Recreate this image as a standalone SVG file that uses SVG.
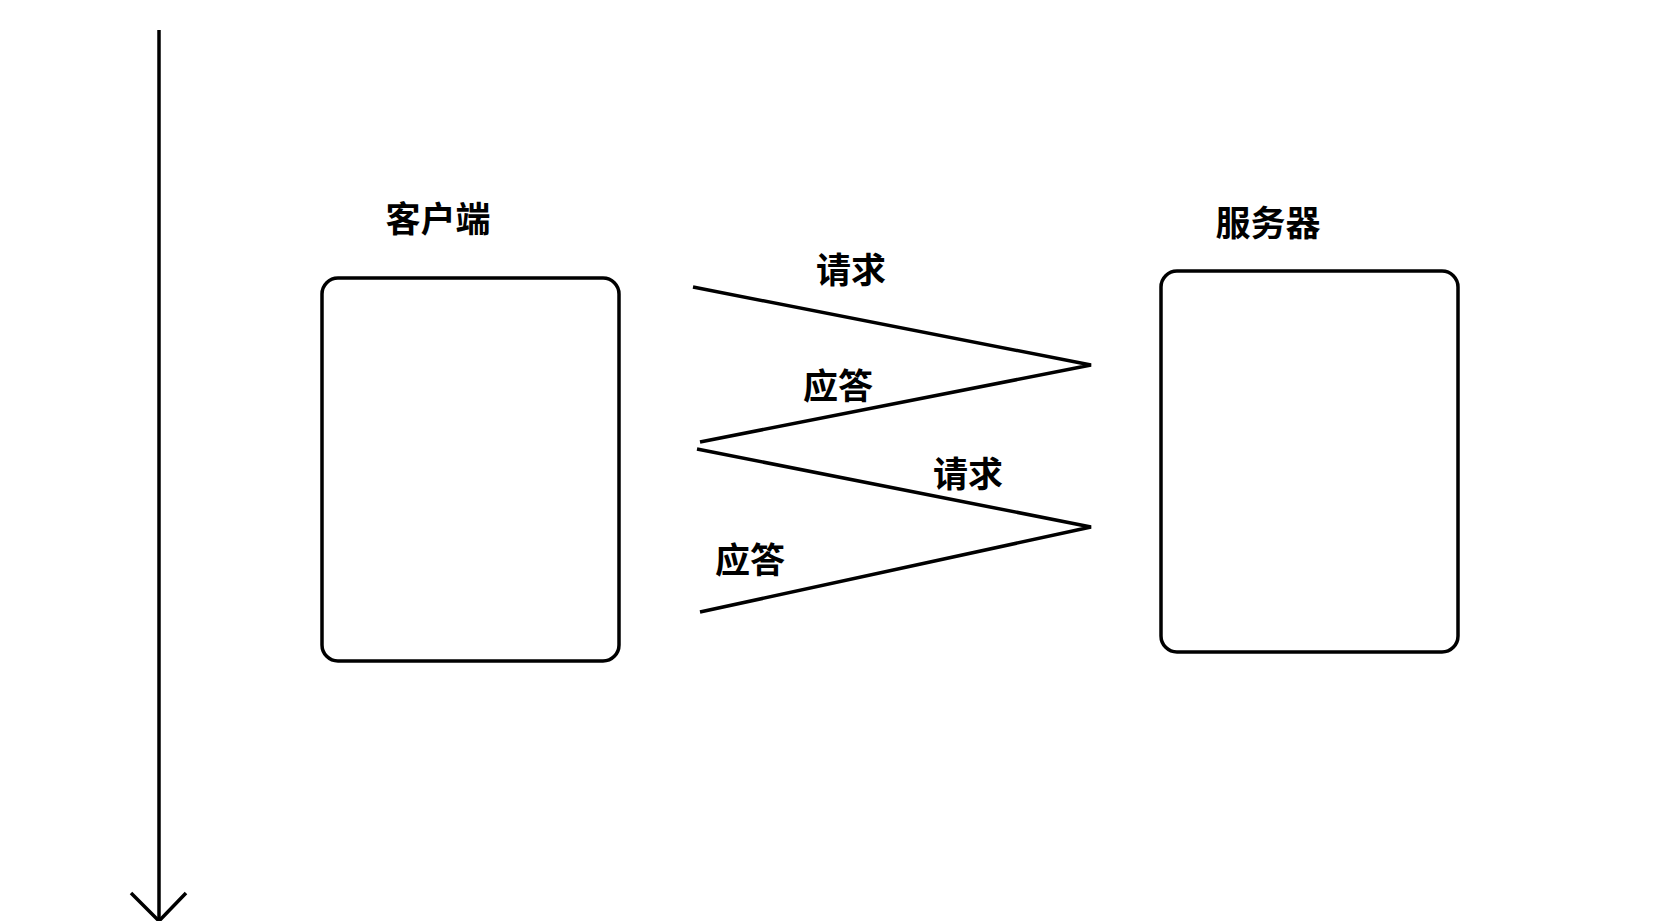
<svg xmlns="http://www.w3.org/2000/svg" width="1675" height="921" viewBox="0 0 1675 921">
<style>
.box{fill:none;stroke:#000;stroke-width:3.5}
.ln{fill:none;stroke:#000;stroke-width:3.5;stroke-linejoin:miter}
.t{font-family:"Noto Sans CJK SC",sans-serif;font-weight:bold;font-size:35px;fill:#000;text-anchor:middle;dominant-baseline:central}
</style>
<rect width="1675" height="921" fill="#fff"/>
<g id="timeline"><path class="ln" d="M159 30V920" stroke-width="3"/><path class="ln" d="M131 893L159 921L186 893" stroke-width="3"/></g>
<g id="client"><rect class="box" x="322" y="278" width="297" height="383" rx="16"/><text class="t" x="438" y="216">客户端</text></g>
<g id="server"><rect class="box" x="1161" y="271" width="297" height="381" rx="16"/><text class="t" x="1268" y="220">服务器</text></g>
<g id="connectors">
<polyline class="ln" points="693,287 1091,365 700,442"/>
<polyline class="ln" points="697,449 1091,527 700,612"/>
<text class="t" x="851" y="267">请求</text>
<text class="t" x="838" y="383">应答</text>
<text class="t" x="968" y="471">请求</text>
<text class="t" x="750" y="557">应答</text>
</g>
</svg>
